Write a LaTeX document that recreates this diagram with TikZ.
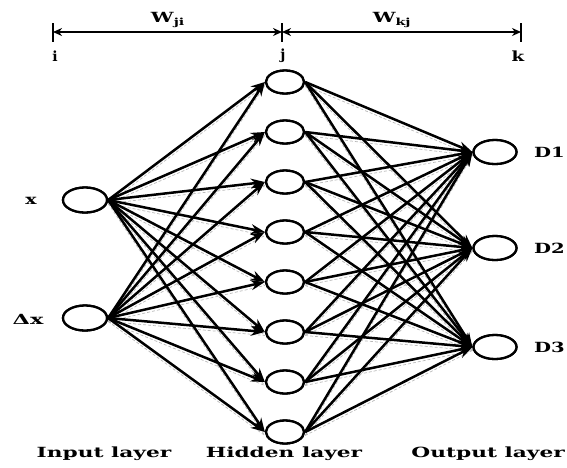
\documentclass[tikz,border=0pt]{standalone}
\usepackage{fontspec}
\setmainfont{DejaVu Serif}
\usetikzlibrary{arrows.meta,shapes.geometric}
\begin{document}
\begin{tikzpicture}[x=1pt,y=-1pt,
  neuron/.style={draw, line width=2.3pt, ellipse, inner sep=0pt, fill=white},
  inneuron/.style={neuron, minimum width=44pt, minimum height=25pt},
  hidneuron/.style={neuron, minimum width=38pt, minimum height=23pt},
  outneuron/.style={neuron, minimum width=43pt, minimum height=24pt},
  conn/.style={line width=2.5pt, -{Stealth[length=14pt,width=10pt]}},
  ghost/.style={line width=0.7pt, gray!55, dash pattern=on 3pt off 2pt},
  lbl/.style={font=\bfseries\fontsize{14}{16}\selectfont, inner sep=0pt},
  dim/.style={line width=1.5pt, {Stealth[length=9pt,width=8pt]}-{Stealth[length=9pt,width=8pt]}},
  bar/.style={line width=2pt}]
\useasboundingbox (0,0) rectangle (567,467);

% dimension line
\coordinate (bi1) at (53,23); \coordinate (bi2) at (53,42);
\coordinate (bj1) at (282,23); \coordinate (bj2) at (282,42);
\coordinate (bk1) at (521,23); \coordinate (bk2) at (521,42);
\coordinate (di) at (53,32); \coordinate (dj) at (282,32); \coordinate (dk) at (521,32);
\draw[bar] (bi1) -- (bi2);
\draw[bar] (bj1) -- (bj2);
\draw[bar] (bk1) -- (bk2);
\draw[dim] (di) -- (dj);
\draw[dim] (dj) -- (dk);
\node[lbl] (wji) at (168,20) {\scalebox{1.45}[1]{W\textsubscript{ji}}};
\node[lbl] (wkj) at (392,20) {\scalebox{1.45}[1]{W\textsubscript{kj}}};
\node[lbl] (li) at (55,56) {i};
\node[lbl] (lj) at (283,56) {j};
\node[lbl] (lk) at (518,56) {\scalebox{1.3}[1]{k}};

% neurons
\node[inneuron] (in1) at (85,200) {};
\node[inneuron] (in2) at (85,318) {};
\foreach \j/\y in {1/82,2/132,3/182,4/232,5/282,6/332,7/382,8/432}
  \node[hidneuron] (h\j) at (285,\y) {};
\node[outneuron] (o1) at (495,152) {};
\node[outneuron] (o2) at (495,248) {};
\node[outneuron] (o3) at (495,347) {};

% faint companion strokes (scan texture)
\foreach \i in {1,2}
  \foreach \j in {1,...,8}
    \draw[ghost] ([yshift=-3.5pt]in\i.east) -- ([yshift=-3.5pt]h\j.west);
\foreach \j in {1,...,8}
  \foreach \k in {1,2,3}
    \draw[ghost] ([yshift=-3.5pt]h\j.east) -- ([yshift=-3.5pt]o\k.west);

% connections
\foreach \i in {1,2}
  \foreach \j in {1,...,8}
    \draw[conn] (in\i.east) -- (h\j.west);
\foreach \j in {1,...,8}
  \foreach \k in {1,2,3}
    \draw[conn] (h\j.east) -- (o\k.west);

% redraw neurons on top
\node[inneuron] at (in1) {};
\node[inneuron] at (in2) {};
\foreach \j in {1,...,8}
  \node[hidneuron] at (h\j) {};
\node[outneuron] at (o1) {};
\node[outneuron] at (o2) {};
\node[outneuron] at (o3) {};

% labels
\node[lbl] (lx) at (31,201) {\scalebox{1.35}[1]{x}};
\node[lbl] (ldx) at (28,319) {\scalebox{1.6}[1]{Δx}};
\node[lbl, anchor=east] (ld1) at (565,152) {\scalebox{1.4}[1]{D1}};
\node[lbl, anchor=east] (ld2) at (565,248) {\scalebox{1.4}[1]{D2}};
\node[lbl, anchor=east] (ld3) at (565,347) {\scalebox{1.4}[1]{D3}};
\node[lbl] (lin) at (104,454) {\scalebox{1.55}[1]{Input layer}};
\node[lbl] (lhid) at (284,454) {\scalebox{1.55}[1]{Hidden layer}};
\node[lbl, anchor=east] (lout) at (565,454) {\scalebox{1.55}[1]{Output layer}};
\end{tikzpicture}
\end{document}
